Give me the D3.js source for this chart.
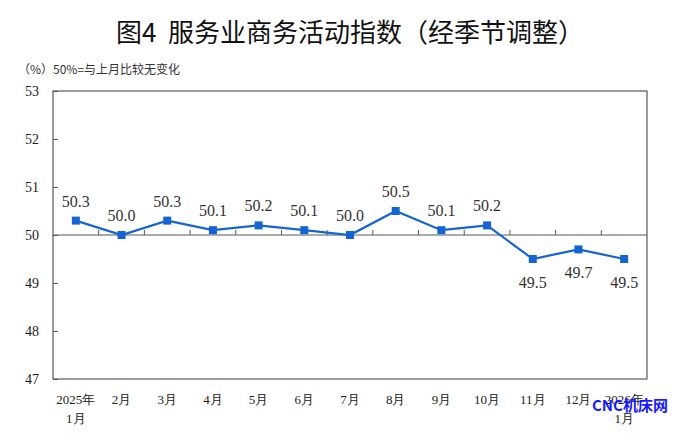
<!DOCTYPE html>
<html>
<head>
<meta charset="utf-8">
<script src="https://cdn.jsdelivr.net/npm/d3@7/dist/d3.min.js"></script>
<style>
  body { margin: 0; background: #fff; }
  svg { display: block; }
</style>
</head>
<body>
<div id="chart"></div>
<script>
// data
const months = ['2025年\n1月', '2月', '3月', '4月', '5月', '6月', '7月', '8月', '9月', '10月', '11月', '12月', '2026年\n1月'];
const values = [50.3, 50.0, 50.3, 50.1, 50.2, 50.1, 50.0, 50.5, 50.1, 50.2, 49.5, 49.7, 49.5];
const labelBelow = [false, false, false, false, false, false, false, false, false, false, true, true, true];
const yTicks = [47, 48, 49, 50, 51, 52, 53];

const width = 698, height = 433;
const margin = { top: 91, right: 51, bottom: 54, left: 53 };
const blue = '#1464d2';
const serif = '"Liberation Serif", "Times New Roman", serif';
const cjk = '"Noto Sans CJK SC", sans-serif';

const svg = d3.select('#chart').append('svg')
    .attr('width', width)
    .attr('height', height);

const x = d3.scaleBand()
    .domain(d3.range(months.length))
    .range([margin.left, width - margin.right]);

const y = d3.scaleLinear()
    .domain([47, 53])
    .range([height - margin.bottom, margin.top]);

// title + note
svg.append('text')
    .attr('x', 350).attr('y', 42)
    .attr('text-anchor', 'middle')
    .style('font-family', cjk)
    .style('font-size', '26px')
    .style('fill', '#111')
    .text('图4\u00A0\u00A0服务业商务活动指数（经季节调整）');

svg.append('text')
    .attr('x', 18).attr('y', 74)
    .style('font-family', cjk)
    .style('font-size', '12px')
    .style('fill', '#333')
    .text('（%）50%=与上月比较无变化');

// frame
svg.append('rect')
    .attr('x', margin.left).attr('y', margin.top)
    .attr('width', width - margin.left - margin.right)
    .attr('height', height - margin.top - margin.bottom)
    .attr('fill', 'none')
    .attr('stroke', '#595959')
    .attr('stroke-width', 1.2);

// y axis ticks and labels
const yAxis = d3.axisLeft(y)
    .tickValues(yTicks)
    .tickSize(-5)
    .tickPadding(14)
    .tickFormat(d3.format('d'));

const gy = svg.append('g')
    .attr('transform', `translate(${margin.left},0)`)
    .call(yAxis);
gy.select('.domain').remove();
gy.selectAll('line').attr('stroke', '#595959');
gy.selectAll('text')
    .style('font-family', serif)
    .style('font-size', '14px')
    .style('fill', '#222');

// 50 baseline with category ticks
const base = y(50);
svg.append('line')
    .attr('x1', margin.left).attr('x2', width - margin.right)
    .attr('y1', base).attr('y2', base)
    .attr('stroke', '#595959')
    .attr('stroke-width', 1.2);

svg.append('g').selectAll('line')
    .data(d3.range(1, months.length))
    .enter().append('line')
    .attr('x1', d => x(d)).attr('x2', d => x(d))
    .attr('y1', base).attr('y2', base - 5)
    .attr('stroke', '#595959');

// x labels
const xl = svg.append('g').selectAll('text')
    .data(months)
    .enter().append('text')
    .attr('x', (d, i) => x(i) + x.bandwidth() / 2)
    .attr('y', height - margin.bottom + 25)
    .attr('text-anchor', 'middle')
    .style('font-family', serif)
    .style('font-size', '13px')
    .style('fill', '#222');

xl.each(function(d) {
    const parts = d.split('\n');
    parts.forEach((p, k) => {
        d3.select(this).append('tspan')
            .attr('x', d3.select(this).attr('x'))
            .attr('dy', k === 0 ? 0 : 19)
            .text(p);
    });
});

// line
const line = d3.line()
    .x((d, i) => x(i) + x.bandwidth() / 2)
    .y(d => y(d));

svg.append('path')
    .datum(values)
    .attr('d', line)
    .attr('fill', 'none')
    .attr('stroke', blue)
    .attr('stroke-width', 2.2);

svg.append('g').selectAll('rect')
    .data(values)
    .enter().append('rect')
    .attr('x', (d, i) => x(i) + x.bandwidth() / 2 - 4)
    .attr('y', d => y(d) - 4)
    .attr('width', 8).attr('height', 8)
    .attr('fill', blue);

// value labels
svg.append('g').selectAll('text')
    .data(values)
    .enter().append('text')
    .attr('x', (d, i) => x(i) + x.bandwidth() / 2)
    .attr('y', (d, i) => labelBelow[i] ? y(d) + 29 : y(d) - 14)
    .attr('text-anchor', 'middle')
    .style('font-family', serif)
    .style('font-size', '16px')
    .style('fill', '#333')
    .text(d => d.toFixed(1));

// watermark (sits over the last tick label, as in the source image)
svg.append('text')
    .attr('x', 630).attr('y', 411)
    .attr('text-anchor', 'middle')
    .style('font-family', cjk)
    .style('font-weight', 'bold')
    .style('font-size', '15px')
    .style('fill', '#1a1aff')
    .text('CNC机床网');
</script>
</body>
</html>
